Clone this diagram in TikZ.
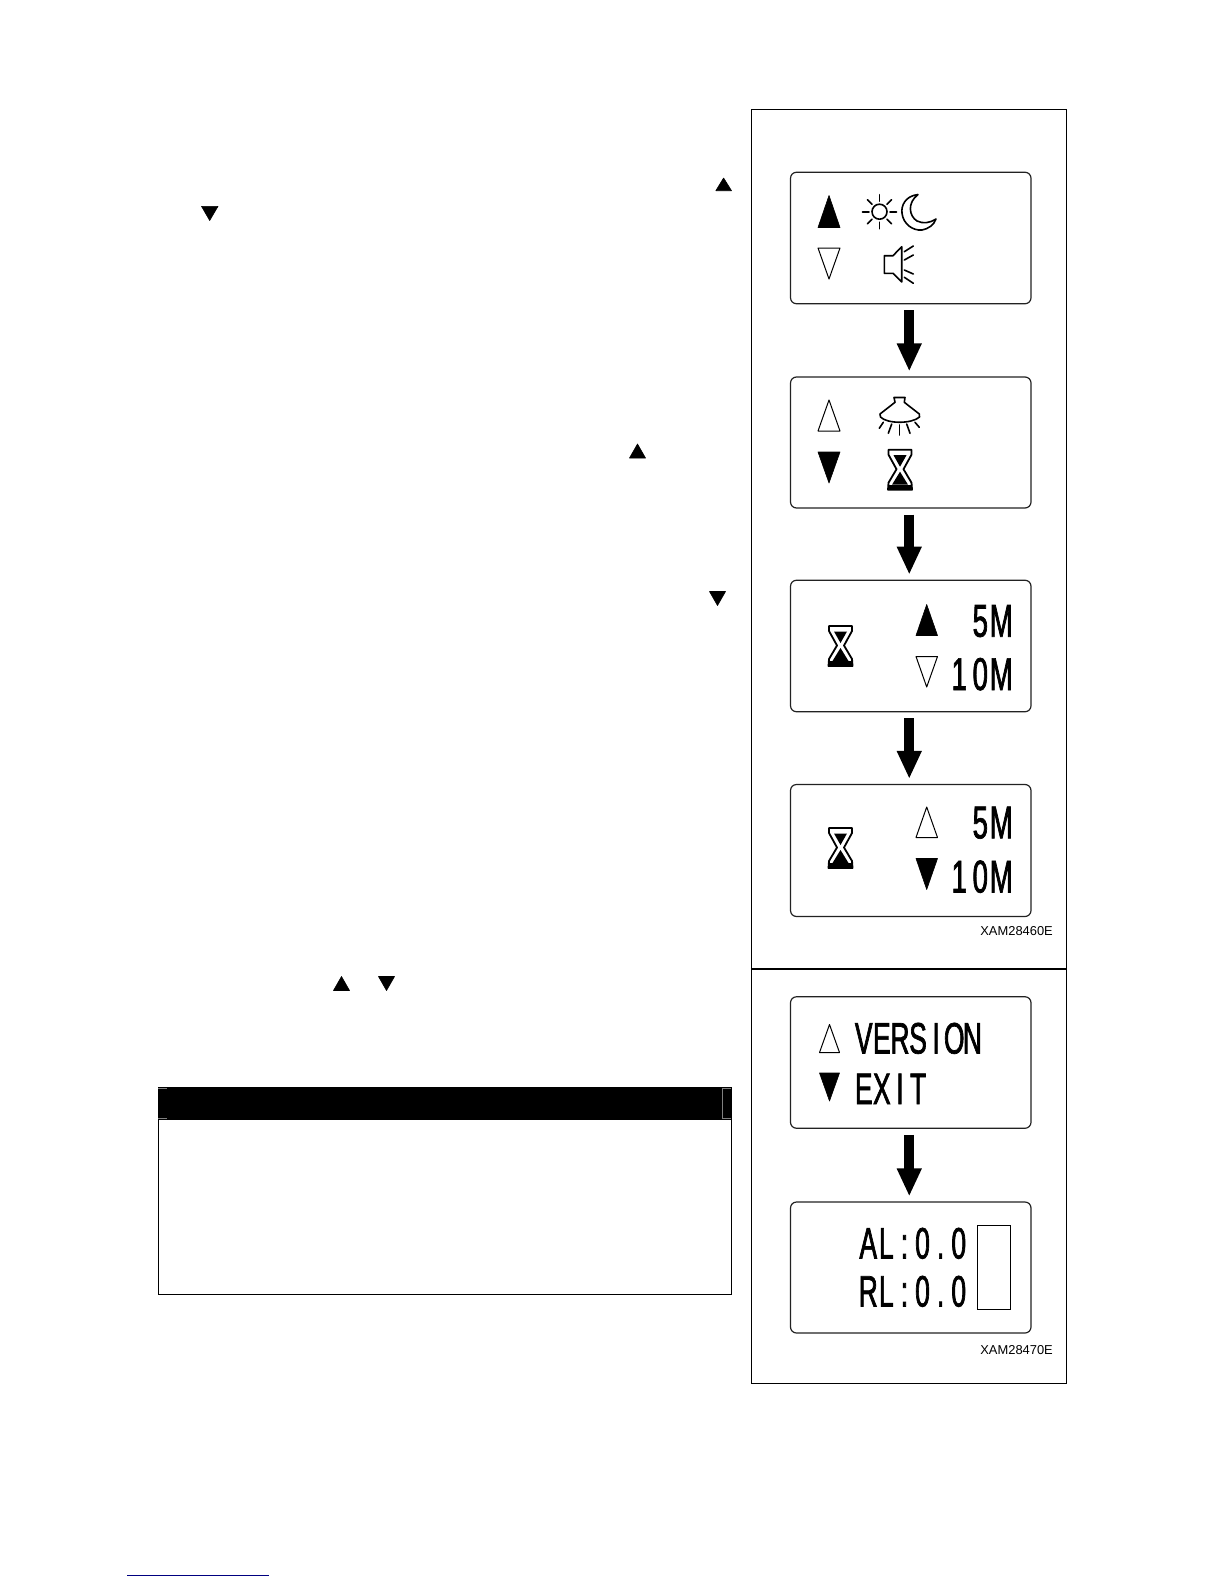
\documentclass[tikz,border=0pt]{standalone}
\usepackage{fontspec}
\usetikzlibrary{arrows.meta,positioning}
\setmainfont{Liberation Sans}
\newfontfamily\lcdfont[FakeStretch=0.6,FakeBold=1.5]{Liberation Sans}
\definecolor{inkline}{HTML}{222222}
\definecolor{linkblue}{HTML}{000080}
\makeatletter
\newcommand{\lcdword}[2]{\@tfor\lcd@c:=#2\do{\makebox[#1]{\lcd@c}}}
\makeatother
\tikzset{
  hourglass/.pic={
    \draw[line width=1.8pt, line join=round, fill=white] (0.5,0) -- (23.5,0) -- (23.5,5) -- (15.5,19.5) -- (23.5,33) -- (24,40) -- (0,40) -- (0.5,33) -- (8.5,19.5) -- (0.5,5) -- cycle;
    \fill (5.5,5.5) -- (18.5,5.5) -- (12,17) -- cycle;
    \fill (12,22) -- (20,35) -- (4,35) -- cycle;
    \fill (0,35) rectangle (24,40.5);
  }
}
\begin{document}
\begin{tikzpicture}[
    x=1pt, y=-1pt,
    panel/.style={draw, line width=1pt, inner sep=0pt},
    disp/.style={draw=inkline, line width=1.2pt, rounded corners=6pt, inner sep=0pt,
                 minimum width=240.5pt},
    bigarr/.style={-{Triangle[width=23pt,length=28pt]}, line width=10pt,
                   shorten <=6pt, shorten >=5pt},
    fulltri/.style={fill=black, draw=black, line width=0.6pt, line join=round},
    opentri/.style={fill=white, draw=black, line width=1pt, line join=round},
    icon/.style={line width=1.6pt, line cap=round, line join=round},
    big/.style={inner sep=0pt, font=\lcdfont\fontsize{46}{46}\selectfont},
    mid/.style={inner sep=0pt, font=\lcdfont\fontsize{44}{44}\selectfont},
    code/.style={inner sep=0pt, anchor=base east, font=\fontsize{12.9}{13}\selectfont}
  ]
  \fill[white] (0,0) rectangle (1224,1584);

  % right-hand panel
  \node[panel, minimum width=315.4pt, minimum height=1274.4pt] (side) at (909,746.5) {};
  \draw[line width=1.6pt] (side.west |- 0,969) -- (side.east |- 0,969);

  \node[disp, minimum height=131.5pt] (d1) at (910.75,238) {};
  \node[disp, minimum height=131pt] (d2) at (910.75,442.5) {};
  \node[disp, minimum height=131.5pt] (d3) at (910.75,646) {};
  \node[disp, minimum height=132pt] (d4) at (910.75,850.5) {};
  \node[disp, minimum height=131.5pt] (d5) at (910.75,1062.5) {};
  \node[disp, minimum height=131pt] (d6) at (910.75,1267.5) {};

  \draw[bigarr] ([xshift=-1.5pt]d1.south) -- ([xshift=-1.5pt]d2.north);
  \draw[bigarr] ([xshift=-1.5pt]d2.south) -- ([xshift=-1.5pt]d3.north);
  \draw[bigarr] ([xshift=-1.5pt]d3.south) -- ([xshift=-1.5pt]d4.north);
  \draw[bigarr] ([xshift=-1.5pt]d5.south) -- ([xshift=-1.5pt]d6.north);

  % display 1
  \draw[fulltri] (818,227.5) -- (840,227.5) -- (829,195.5) -- cycle;
  \draw[opentri] (818,248) -- (840,248) -- (829,279) -- cycle;
  \draw[icon] (879.5,211.7) circle (7.5);
  \foreach \a in {0,45,...,315}
    \draw[icon] (879.5,211.7) ++(\a:10.5) -- ++(\a:6.5);
  \draw[icon] (918,194.5) .. controls (905,196) and (901,206) .. (902,213)
    .. controls (903,224) and (913,231) .. (922,230)
    .. controls (928,229) and (934,225) .. (936,219)
    .. controls (930,223) and (923,224) .. (917,221)
    .. controls (909,216) and (907,203) .. (918,194.5) -- cycle;
  \draw[icon] (884.3,255.7) -- (893,255.7) -- (901.7,246.7) -- (901.7,282) -- (893,273.3) -- (884.3,273.3) -- cycle;
  \draw[icon] (904.3,251.7) -- (913.3,246);
  \draw[icon] (904.3,260) -- (913.3,255);
  \draw[icon] (904.3,270) -- (913.3,274);
  \draw[icon] (904.3,277.3) -- (913.3,283.3);

  % display 2
  \draw[opentri] (818,431) -- (840,431) -- (829,400) -- cycle;
  \draw[fulltri] (818,452) -- (840,452) -- (829,483) -- cycle;
  \draw[icon] (894,397.5) -- (905,397.5) -- (904.3,402.3) -- (919.3,414) -- (919.5,417)
    .. controls (912,424) and (887,424) .. (880.5,417) -- (880,414) -- (895,402.3) -- cycle;
  \draw[icon] (899.3,425) -- (899.3,435);
  \draw[icon] (891.7,424) -- (888.3,433.3);
  \draw[icon] (906.7,424) -- (910,433.3);
  \draw[icon] (883.3,422.3) -- (879.3,428.3);
  \draw[icon] (915,422.3) -- (919.3,427.3);
  \pic at (888,449.7) {hourglass};

  % display 3
  \pic at (828.5,626) {hourglass};
  \draw[fulltri] (916,635.5) -- (937.5,635.5) -- (926.7,604.5) -- cycle;
  \draw[opentri] (916,656.5) -- (937.5,656.5) -- (926.7,687) -- cycle;
  \node[big, anchor=base east] (t5a) at (1012,636.7) {\lcdword{21pt}{5M}};
  \node[big, anchor=base east] (t10a) at (1012,690) {\lcdword{21pt}{10M}};

  % display 4
  \pic at (828.5,828) {hourglass};
  \draw[opentri] (916,837.5) -- (937.5,837.5) -- (926.7,807) -- cycle;
  \draw[fulltri] (916,858.5) -- (937.5,858.5) -- (926.7,889.5) -- cycle;
  \node[big, anchor=base east] (t5b) at (1012,838.3) {\lcdword{21pt}{5M}};
  \node[big, anchor=base east] (t10b) at (1012,892.5) {\lcdword{21pt}{10M}};
  \node[code] (xam60) at (1053,935) {XAM28460E};

  % display 5
  \draw[opentri] (819.5,1052.5) -- (839.5,1052.5) -- (829.5,1024.5) -- cycle;
  \draw[fulltri] (819.5,1073) -- (839.5,1073) -- (829.5,1101) -- cycle;
  \node[mid, anchor=base west] (tver) at (854.5,1053.5) {\lcdword{18.1pt}{VERSION}};
  \node[mid, anchor=base west] (texit) at (854.5,1104) {\lcdword{18.1pt}{EXIT}};

  % display 6
  \node[mid, anchor=base west] (tal) at (859,1258.5) {\lcdword{18.1pt}{AL:0.0}};
  \node[mid, anchor=base west] (trl) at (859,1306.5) {\lcdword{18.1pt}{RL:0.0}};
  \draw[line width=1pt] (977.7,1225.7) rectangle (1010,1309.3);
  \node[code] (xam70) at (1053,1354.3) {XAM28470E};

  % left column
  \draw[fulltri] (715.8,190.7) -- (731.5,190.7) -- (723.6,178) -- cycle;
  \draw[fulltri] (201.5,206.3) -- (218,206.3) -- (209.7,220.5) -- cycle;
  \draw[fulltri] (629.5,458) -- (645.5,458) -- (637.5,444) -- cycle;
  \draw[fulltri] (709.5,591.5) -- (725.5,591.5) -- (717.5,605.5) -- cycle;
  \draw[fulltri] (333.5,990.5) -- (349.5,990.5) -- (341.5,976.5) -- cycle;
  \draw[fulltri] (378.5,976.5) -- (394.5,976.5) -- (386.5,990.5) -- cycle;

  \node[panel, minimum width=573.6pt, minimum height=207.5pt] (note) at (444.8,1191) {};
  \node[fill=black, inner sep=0pt, minimum width=573.6pt, minimum height=33pt] (notehead) at (444.8,1103.5) {};
  \draw[gray, line width=0.6pt] (158,1088.7) -- (167,1088.7);
  \draw[gray, line width=0.6pt] (158,1118) -- (167,1118);
  \draw[gray, line width=0.6pt] (731,1088.7) -- (722,1088.7) -- (722,1118) -- (731,1118);

  % link rule at the foot
  \draw[linkblue, line width=1pt] (127,1575.3) -- (269,1575.3);
\end{tikzpicture}
\end{document}
